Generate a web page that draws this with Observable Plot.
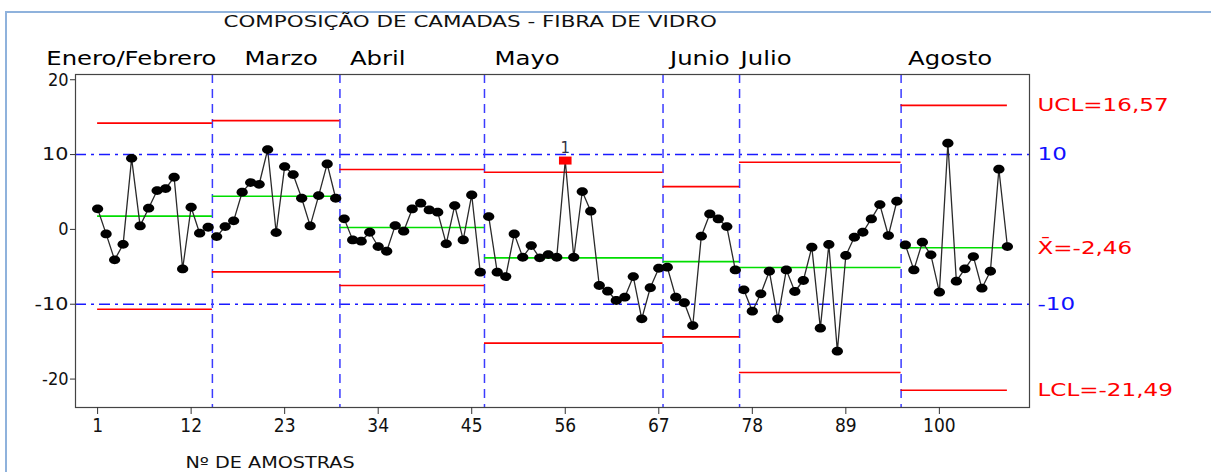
<!DOCTYPE html>
<html>
<head>
<meta charset="utf-8">
<script src="https://cdn.jsdelivr.net/npm/d3@7"></script>
<script src="https://cdn.jsdelivr.net/npm/@observablehq/plot@0.6"></script>
<style>
  body { margin: 0; background: #fff; }
  #wrap { position: relative; width: 1211px; height: 472px; overflow: hidden; }
  #border { position: absolute; left: 5px; top: 11px; width: 1220px; height: 480px;
            border-left: 2px solid #8fb2dc; border-top: 2px solid #8fb2dc; }
  #chart { position: absolute; left: 0; top: 0; }
</style>
</head>
<body>
<div id="wrap"><div id="border"></div><div id="chart"></div></div>
<script>
const title = "COMPOSIÇÃO DE CAMADAS - FIBRA DE VIDRO";
const xLabel = "Nº DE AMOSTRAS";

const values = [
  2.75, -0.6, -4.07, -2.0, 9.5, 0.47, 2.83, 5.19, 5.46, 6.97, -5.28, 2.96, -0.51, 0.29,
  -0.96, 0.38, 1.14, 4.97, 6.26, 6.03, 10.67, -0.42, 8.4, 7.33, 4.16, 0.47, 4.52, 8.75, 4.16,
  1.41, -1.4, -1.58, -0.38, -2.29, -2.92, 0.51, -0.24, 2.74, 3.5, 2.6, 2.3, -1.93, 3.19, -1.4, 4.6, -5.72,
  1.72, -5.72, -6.3, -0.6, -3.72, -2.16, -3.8, -3.36, -3.72, 9.2, -3.72, 5.06, 2.43, -7.5, -8.26, -9.5, -9.06, -6.3, -11.95, -7.8, -5.19,
  -5.05, -9.06, -9.8, -12.85, -0.91, 2.07, 1.4, 0.38, -5.41,
  -8.08, -10.93, -8.61, -5.59, -11.95, -5.41, -8.3, -6.83, -2.38, -13.2, -2.02, -16.27, -3.49, -1.05, -0.38, 1.4, 3.32, -0.82, 3.76,
  -2.07, -5.41, -1.71, -3.4, -8.39, 11.51, -6.92, -5.27, -3.63, -7.86, -5.59, 8.04, -2.29
];
const stageNames = ["Enero/Febrero", "Marzo", "Abril", "Mayo", "Junio", "Julio", "Agosto"];
const stageStart = [1, 15, 30, 47, 68, 77, 96];
const stageUCL  = [14.2, 14.54, 8.0, 7.64, 5.72, 8.97, 16.57];
const stageMean = [1.77, 4.43, 0.25, -3.8, -4.3, -5.1, -2.46];
const stageLCL  = [-10.67, -5.67, -7.5, -15.2, -14.36, -19.13, -21.49];
const refLevels = [10, -10];
const xTicks = [1, 12, 23, 34, 45, 56, 67, 78, 89, 100];
const yTicks = [-20, -10, 0, 10, 20];
const rightLabels = [
  {text: "UCL=16,57", y: 16.57, kind: "limit"},
  {text: "10", y: 10, kind: "ref"},
  {text: "X\u0304=-2,46", y: -2.46, kind: "limit"},
  {text: "-10", y: -10, kind: "ref"},
  {text: "LCL=-21,49", y: -21.49, kind: "limit"}
];

// --- derived tables ---
const n = values.length;
const stageOf = i => { let s = 0; for (let k = 0; k < stageStart.length; k++) if (i >= stageStart[k]) s = k; return s; };
const points = values.map((v, j) => {
  const i = j + 1, s = stageOf(i);
  return {i, v, stage: s, flag: v > stageUCL[s] || v < stageLCL[s]};
});
const segs = stageNames.map((name, k) => {
  const s = stageStart[k];
  const e = k + 1 < stageStart.length ? stageStart[k + 1] - 1 : n;
  return {name, k, x1: Math.max(1, s - 0.5), x2: Math.min(n, e + 0.5), b: s - 0.5,
          ucl: stageUCL[k], lcl: stageLCL[k], mean: stageMean[k]};
});
const bounds = segs.slice(1).map(d => d.b);

// label styling (pixel offsets)
const labelDx = [4, 32, 10, 10, 7, 1, 7];
const labelAnchor = ["end", "start", "start", "start", "start", "start", "start"];
const labelData = segs.map((d, k) => ({...d, lx: k === 0 ? segs[1].b : d.b}));

const ellipse = {draw(ctx) {
  const rx = 5.6, ry = 4.4, c = 0.5523;
  ctx.moveTo(rx, 0);
  ctx.bezierCurveTo(rx, ry * c, rx * c, ry, 0, ry);
  ctx.bezierCurveTo(-rx * c, ry, -rx, ry * c, -rx, 0);
  ctx.bezierCurveTo(-rx, -ry * c, -rx * c, -ry, 0, -ry);
  ctx.bezierCurveTo(rx * c, -ry, rx, -ry * c, rx, 0);
  ctx.closePath();
}};
const box = {draw(ctx) { ctx.rect(-6.3, -4, 12.6, 8); }};

const F = "DejaVu Sans";
const chart = Plot.plot({
  width: 1211, height: 472,
  marginLeft: 75, marginRight: 182, marginTop: 74, marginBottom: 65,
  style: {fontFamily: "DejaVu Sans Condensed", fontSize: "19px", background: "transparent", overflow: "visible"},
  x: {domain: [-1.6, 110.6]},
  y: {domain: [-23.8, 20.7]},
  marks: [
    Plot.ruleY(refLevels, {stroke: "#1a1aff", strokeWidth: 1.6, strokeDasharray: "11,5,3,5"}),
    Plot.ruleX(bounds, {stroke: "#3b3bff", strokeWidth: 1.5, strokeDasharray: "9,6"}),
    Plot.ruleY(segs, {y: "ucl", x1: "x1", x2: "x2", stroke: "#ff0000", strokeWidth: 1.6}),
    Plot.ruleY(segs, {y: "lcl", x1: "x1", x2: "x2", stroke: "#ff0000", strokeWidth: 1.6}),
    Plot.ruleY(segs, {y: "mean", x1: "x1", x2: "x2", stroke: "#00dd00", strokeWidth: 1.6}),
    Plot.line(points, {x: "i", y: "v", z: "stage", stroke: "#2a2a2a", strokeWidth: 1.3}),
    Plot.dot(points.filter(d => !d.flag), {x: "i", y: "v", symbol: ellipse, fill: "#000", stroke: "none"}),
    Plot.dot(points.filter(d => d.flag), {x: "i", y: "v", symbol: box, fill: "#ff0000", stroke: "none"}),
    Plot.text(points.filter(d => d.flag), {x: "i", y: "v", text: () => "1", dy: -12, fill: "#333344", fontSize: 15, fontFamily: F}),
    Plot.frame({stroke: "#444", strokeWidth: 1.2}),
    Plot.axisX({ticks: xTicks, tickFormat: d => String(d), tickSize: 7, tickPadding: 4, label: null, stroke: "#333", fill: "#111"}),
    Plot.axisY({ticks: yTicks, tickFormat: d => String(d), tickSize: 5, tickPadding: 2, label: null, stroke: "#333", fill: "#111", fontSize: 18}),
    Plot.text(labelData, {x: "lx", text: "name", frameAnchor: "top", lineAnchor: "bottom", dy: -10, textAnchor: "start",
      fontSize: 19, fontFamily: F, fill: "#000"}),
    Plot.text(rightLabels, {y: "y", text: "text", frameAnchor: "right", dx: 8, textAnchor: "start",
      fontSize: 18, fontFamily: F, fill: d => d.kind === "ref" ? "#1010ff" : "#ff0000"}),
    Plot.text([title], {text: d => d, frameAnchor: "top-left", lineAnchor: "middle", dx: 148, dy: -53, textAnchor: "start", fontSize: 16, fontFamily: F, fill: "#111"}),
    Plot.text([xLabel], {text: d => d, frameAnchor: "bottom-left", lineAnchor: "middle", dx: 110, dy: 56, textAnchor: "start", fontSize: 15, fontFamily: F, fill: "#111"})
  ]
});
document.getElementById("chart").append(chart);

// per-label pixel offsets and anchors for stage names, horizontal stretch for wide texts
const stretch = 1.28;
const stretchOf = new Map([[title, 1.34], [xLabel, stretch], ...stageNames.map(s => [s, stretch]), ...rightLabels.map(d => [d.text, stretch])]);
chart.querySelectorAll("text").forEach(t => {
  const s = t.textContent;
  const k = stageNames.indexOf(s);
  if (k >= 0) {
    t.setAttribute("text-anchor", labelAnchor[k]);
    const tr = t.getAttribute("transform") || "";
    t.setAttribute("transform", tr + ` translate(${labelDx[k]},0)`);
  }
  if (stretchOf.has(s)) {
    const w = t.getComputedTextLength();
    t.setAttribute("textLength", (w * stretchOf.get(s)).toFixed(1));
    t.setAttribute("lengthAdjust", "spacingAndGlyphs");
  }
});
</script>
</body>
</html>
